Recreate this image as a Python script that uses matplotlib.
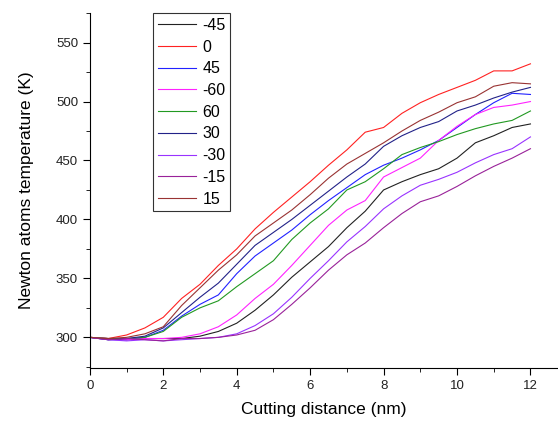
import numpy as np
import matplotlib
matplotlib.use("Agg")
import matplotlib.pyplot as plt
from matplotlib.ticker import MultipleLocator

plt.rcParams['font.family'] = ['Liberation Sans', 'DejaVu Sans']

# cutting distance (nm), read every 0.5 nm
dist = [0, 0.5, 1, 1.5, 2, 2.5, 3, 3.5, 4, 4.5, 5, 5.5, 6, 6.5, 7, 7.5,
        8, 8.5, 9, 9.5, 10, 10.5, 11, 11.5, 12]

# Newton atoms temperature (K) for each angle
t_m45 = [300, 299, 298, 299, 299, 299, 301, 305, 312, 323, 336, 351, 364,
         377, 393, 407, 425, 432, 438, 443, 452, 465, 471, 478, 481]
t_0 = [300, 299, 302, 308, 317, 333, 345, 361, 375, 392, 406, 419, 432,
       446, 459, 474, 478, 490, 499, 506, 512, 518, 526, 526, 532]
t_45 = [300, 298, 298, 300, 306, 318, 328, 336, 354, 369, 380, 391, 404,
        416, 427, 438, 446, 452, 459, 467, 478, 489, 499, 507, 506]
t_m60 = [300, 299, 298, 299, 299, 300, 303, 309, 319, 333, 345, 361, 378,
         395, 408, 416, 436, 444, 452, 467, 479, 489, 495, 497, 500]
t_60 = [300, 299, 299, 300, 305, 317, 325, 331, 343, 354, 365, 383, 397,
        409, 425, 432, 443, 455, 461, 466, 472, 477, 481, 484, 492]
t_30 = [300, 298, 299, 301, 308, 321, 334, 346, 362, 378, 389, 400, 412,
        424, 436, 447, 462, 471, 478, 483, 492, 497, 503, 508, 512]
t_m30 = [300, 298, 297, 298, 297, 298, 299, 300, 303, 310, 320, 334, 350,
         365, 381, 394, 409, 420, 429, 434, 440, 448, 455, 460, 470]
t_m15 = [300, 298, 299, 298, 297, 299, 299, 300, 302, 306, 315, 328, 342,
         357, 370, 380, 393, 405, 415, 420, 428, 437, 445, 452, 460]
t_15 = [300, 299, 300, 303, 309, 327, 342, 357, 370, 386, 397, 408, 421,
        435, 447, 456, 465, 475, 484, 491, 499, 504, 513, 516, 515]

labels = ['-45', '0', '45', '-60', '60', '30', '-30', '-15', '15']
series = [t_m45, t_0, t_45, t_m60, t_60, t_30, t_m30, t_m15, t_15]
colors = ['#222222', '#ff2222', '#2222ff', '#ff22ff', '#229922',
          '#222288', '#9933ff', '#992299', '#993333']

fig = plt.figure(figsize=(5.58, 4.23), dpi=100)
ax = fig.add_axes([0.161, 0.130, 0.837, 0.839])

for i in range(len(series)):
    ax.plot(dist, series[i], color=colors[i], lw=0.8, label=labels[i])

ax.set_xlim(0, 12.72)
ax.set_ylim(274, 575)
ax.xaxis.set_major_locator(MultipleLocator(2))
ax.xaxis.set_minor_locator(MultipleLocator(1))
ax.yaxis.set_major_locator(MultipleLocator(50))
ax.yaxis.set_minor_locator(MultipleLocator(25))
ax.tick_params(which='major', direction='out', length=5, labelsize=9.5,
               labelcolor='#222222')
ax.tick_params(which='minor', direction='out', length=3)

ax.spines['top'].set_visible(False)
ax.spines['right'].set_visible(False)

ax.set_xlabel('Cutting distance (nm)', fontsize=12.5, labelpad=7)
ax.set_ylabel('Newton atoms temperature (K)', fontsize=12.5, labelpad=16)

leg = ax.legend(loc='upper left', bbox_to_anchor=(0.135, 1.0), fontsize=11.5,
                frameon=True, fancybox=False, handlelength=2.4,
                handletextpad=0.4, labelspacing=0.42, borderpad=0.3,
                borderaxespad=0)
leg.get_frame().set_edgecolor('black')
leg.get_frame().set_linewidth(0.8)

fig.savefig('out.png', dpi=100)
